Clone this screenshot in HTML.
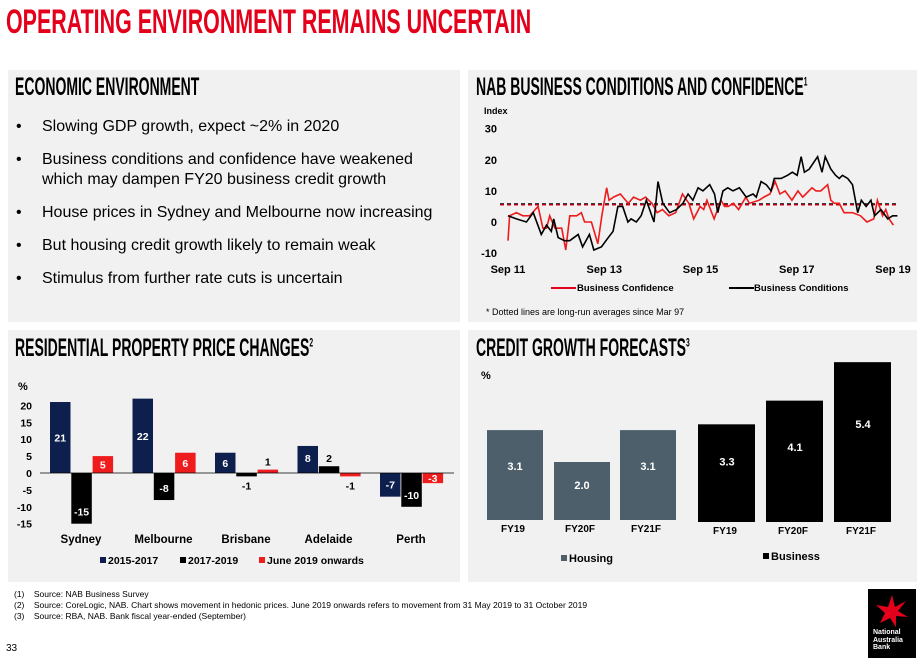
<!DOCTYPE html>
<html><head><meta charset="utf-8">
<style>
*{margin:0;padding:0;box-sizing:border-box}
body{width:924px;height:667px;background:#fff;position:relative;overflow:hidden;font-family:"Liberation Sans",Arial,sans-serif;color:#000}
.abs{position:absolute}
.panel{position:absolute;background:#f1f1f1}
.hd{position:absolute;font-family:"Liberation Sans Narrow","Liberation Sans",sans-serif;font-weight:bold;transform-origin:0 0;white-space:nowrap}
.bul{position:absolute;left:16px;font-size:16px;line-height:20px}
.bul span{position:absolute;left:26px;white-space:nowrap}
.foot{position:absolute;left:14px;font-size:8.5px;white-space:nowrap}
</style></head><body>
<div class="hd" style="left:6px;top:3px;font-size:34px;color:#e4001b;transform:scaleX(0.63)">OPERATING ENVIRONMENT REMAINS UNCERTAIN</div>

<div class="panel" style="left:8px;top:70px;width:452px;height:252px"></div>
<div class="panel" style="left:468px;top:70px;width:449px;height:252px"></div>
<div class="panel" style="left:8px;top:330px;width:452px;height:252px"></div>
<div class="panel" style="left:468px;top:330px;width:449px;height:252px"></div>

<div class="hd" style="left:15px;top:73px;font-size:25px;transform:scaleX(0.56)">ECONOMIC ENVIRONMENT</div>
<div>
<div class="bul" style="top:117px">•<span>Slowing GDP growth, expect ~2% in 2020</span></div>
<div class="bul" style="top:150px">•<span>Business conditions and confidence have weakened<br>which may dampen FY20 business credit growth</span></div>
<div class="bul" style="top:203px">•<span>House prices in Sydney and Melbourne now increasing</span></div>
<div class="bul" style="top:236px">•<span>But housing credit growth likely to remain weak</span></div>
<div class="bul" style="top:269px">•<span>Stimulus from further rate cuts is uncertain</span></div>
</div>

<div class="hd" style="left:476px;top:73px;font-size:25px;transform:scaleX(0.56)">NAB BUSINESS CONDITIONS AND CONFIDENCE<sup style="font-size:12px">1</sup></div>
<div class="hd" style="left:15px;top:334px;font-size:25px;transform:scaleX(0.56)">RESIDENTIAL PROPERTY PRICE CHANGES<sup style="font-size:12px">2</sup></div>
<div class="hd" style="left:476px;top:334px;font-size:25px;transform:scaleX(0.56)">CREDIT GROWTH FORECASTS<sup style="font-size:12px">3</sup></div>

<svg class="abs" style="left:0;top:0" width="924" height="667" id="svg"></svg>

<div>
<div class="foot" style="top:589px">(1)&nbsp;&nbsp;&nbsp; Source: NAB Business Survey</div>
<div class="foot" style="top:600px">(2)&nbsp;&nbsp;&nbsp; Source: CoreLogic, NAB. Chart shows movement in hedonic prices. June 2019 onwards refers to movement from 31 May 2019 to 31 October 2019</div>
<div class="foot" style="top:611px">(3)&nbsp;&nbsp;&nbsp; Source: RBA, NAB. Bank fiscal year-ended (September)</div>
</div>
<div class="abs" style="left:6px;top:643px;font-size:10px">33</div>
<div class="abs" style="left:868px;top:589px;width:48px;height:69px;background:#000">
<svg width="48" height="40" style="position:absolute;left:0;top:2px"><polygon points="24,4 27,16 38,10 30,20 40,26 28,25 28,36 22,27 12,32 17,22 8,14 20,16" fill="#e4001b"/></svg>
<div style="position:absolute;left:5px;top:40px;color:#fff;font-size:7px;font-weight:bold;line-height:7.5px">National<br>Australia<br>Bank</div>
</div>

<script>
// ===== NAB line chart data =====
const confMonths=[0,0.4,2.1,3.7,5.4,7.5,8.7,9.6,10.4,11.7,13.4,14.4,15.4,17.1,18.3,19.1,20.8,22.4,23.4,24.6,25.2,26.3,28,30,31.3,33,34.3,35.9,37.2,38.5,40.1,41.8,43.5,45.1,46.3,47.9,48.8,49.6,51.4,53.1,54,54.9,56.2,57.5,59.3,60.2,62.6,63.8,65.3,66.6,67.8,69.1,70.8,72.3,73.5,75.8,76.8,78,79.7,80.5,81.4,82.6,83.8,85.9,87.9,89.5,91.2,92.1,93.4,94.2,95,96.1,97.1];
const confVals=[-6,2,3,2,2,5,-2,-2,2,-2,-2,-9,2,2,3,0,0,-7,2,11,7,8,9,6,8,7,8,6,3,4,2,3,9,6,1,5,4,7,1,7,5,5,6,4,8,6,7,8,9,13,9,10,7,10,8,11,10,10,12,7,6,6,3,3,2,0,1,7,2,4,1,-1];
const condMonths=[0,2.1,4.6,6.3,8.3,9.6,10.8,11.4,12.5,14.1,15.4,17.5,18.6,20.3,21.4,23.3,25,26.2,27.4,28.6,29.9,30.7,32,33.2,34.5,36.4,37.4,38.6,40.3,42,43.6,44.9,46.1,47.4,48.6,50.3,51.5,52.3,53.6,54.8,56.1,57.7,59.4,61.1,61.9,63.1,64.4,65.6,66.4,68.1,69.7,70.9,72.1,73.1,73.9,75.1,77.2,78.3,79.1,80.5,81.7,82.6,83.4,84.7,85.9,87.2,88.1,89.3,90.5,91.4,93,94.7,95.9,97.1];
const condVals=[2,1,0,3,-4,-1,-3,1,-5,-6,-6,-4,-8,-4,-9,-8,-5,-3,5,5,0,1,0,2,7,0,13,6,3,4,6,9,7,11,10,12,9,3,10,11,10,11,8,9,8,13,12,10,14,14,15,16,15,21,16,17,21,16,21,17,15,14,15,14,12,3,7,5,7,2,4,1,2,2];
const avgConf=5.5, avgCond=5.8;
const nabYTicks=[30,20,10,0,-10];
const nabXTicks=["Sep 11","Sep 13","Sep 15","Sep 17","Sep 19"];
const nabXTickMonths=[0,24,48,72,96];

// ===== Property chart data =====
const cities=["Sydney","Melbourne","Brisbane","Adelaide","Perth"];
const p1517=[21,22,6,8,-7];
const p1719=[-15,-8,-1,2,-10];
const pJun19=[5,6,1,-1,-3];
const propYTicks=[20,15,10,5,0,-5,-10,-15];

// ===== Credit chart data =====
const creditCats=["FY19","FY20F","FY21F"];
const housing=[3.1,2.0,3.1];
const business=[3.3,4.1,5.4];

const NS="http://www.w3.org/2000/svg";
const svg=document.getElementById('svg');
function mk(tag,attrs,parent){const e=document.createElementNS(NS,tag);for(const k in attrs)e.setAttribute(k,attrs[k]);(parent||svg).appendChild(e);return e;}
function txt(x,y,s,attrs){const t=mk('text',Object.assign({x:x,y:y,'font-family':'Liberation Sans, Arial, sans-serif','font-size':11,'font-weight':'bold'},attrs||{}));t.textContent=s;return t;}

// ---- NAB line chart ----
const lx=m=>508+m*(385/96);
const ly=v=>222-v*3.11;
nabYTicks.forEach(v=>{const t=txt(497,ly(v)+4,String(v),{'text-anchor':'end','font-size':11});

});
nabXTicks.forEach((s,i)=>{const t=txt(lx(nabXTickMonths[i]),273,s,{'text-anchor':'middle','font-size':11});

});
const yl=txt(484,114,"Index",{'font-size':9});


const a1=mk('line',{x1:lx(0)-8,x2:lx(97),y1:ly(avgCond),y2:ly(avgCond),stroke:'#000','stroke-width':1.3,'stroke-dasharray':'4,3'});


const a2=mk('line',{x1:lx(0)-8,x2:lx(97),y1:ly(avgConf),y2:ly(avgConf),stroke:'#e4001b','stroke-width':1.3,'stroke-dasharray':'4,3'});


const pc=mk('polyline',{points:confMonths.map((m,i)=>lx(m)+','+ly(confVals[i])).join(' '),fill:'none',stroke:'#ee1c1c','stroke-width':1.6});


const pk=mk('polyline',{points:condMonths.map((m,i)=>lx(m)+','+ly(condVals[i])).join(' '),fill:'none',stroke:'#000','stroke-width':1.6});


const lg1=mk('line',{x1:551,x2:576,y1:288,y2:288,stroke:'#e4001b','stroke-width':2});


const lt1=txt(577,291,"Business Confidence",{'font-size':9.5});


const lg2=mk('line',{x1:729,x2:754,y1:288,y2:288,stroke:'#000','stroke-width':2});


const lt2=txt(754,291,"Business Conditions",{'font-size':9.5});


const nt=txt(486,315,"* Dotted lines are long-run  averages since Mar 97",{'font-size':9,'font-weight':'normal'});



// ---- Property chart ----
const py=v=>473-v*3.38;
const pAxisTitle=txt(18,390,"%",{'font-size':11});


propYTicks.forEach(v=>{const t=txt(32,py(v)+4,String(v),{'text-anchor':'end','font-size':10.5});

});
const series=[[p1517,'#0d1f4d','2015-2017'],[p1719,'#000','2017-2019'],[pJun19,'#ee1c1c','June 2019 onwards']];
cities.forEach((c,i)=>{
  const g0=50+i*82.5;
  series.forEach((s,j)=>{
    const v=s[0][i];const x=g0+j*21.3;const y0=py(Math.max(v,0)),h=Math.abs(v)*3.38;
    const r=mk('rect',{x:x,y:y0,width:20.5,height:h,fill:s[1]});
    
    
    let ty,col='#fff';
    if(Math.abs(v)>=3){
      if(v<0) ty=(h<15)?py(v)-1:py(v)-8;
      else ty=py(v)+(v>10?h/2+4:Math.min(16,h/2+4));
    }
    else {col='#000';ty=v>0?py(v)-4:py(v)+13;}
    const t=txt(x+10.25,ty,String(v),{'text-anchor':'middle','font-size':10.5,fill:col});
    
    
  });
  const ct=txt(g0+31,543,c,{'text-anchor':'middle','font-size':11.5});
  
  
});
const zl=mk('line',{x1:40,x2:454,y1:473,y2:473,stroke:'#000','stroke-width':0.8});


[[100,'#0d1f4d','2015-2017'],[180,'#000','2017-2019'],[259,'#ee1c1c','June 2019 onwards']].forEach(l=>{
  const r=mk('rect',{x:l[0],y:557,width:6,height:6,fill:l[1]});
  
  
  const t=txt(l[0]+8,564,l[2],{'font-size':10.5});
  
  
});

// ---- Credit chart ----
const ct0=txt(481,379,"%",{'font-size':11});


const hx=[487,554,620], bx=[698,766,834];
housing.forEach((v,i)=>{
  const h=v*29, y=520-h;
  const r=mk('rect',{x:hx[i],y:y,width:56,height:h,fill:'#4c5f6a'});
  
  
  const t=txt(hx[i]+28,y+0.4*h+4,v.toFixed(1),{'text-anchor':'middle','font-size':11,fill:'#fff'});
  
  
  const c=txt(hx[i]+26,532,creditCats[i],{'text-anchor':'middle','font-size':10});
  
  
});
business.forEach((v,i)=>{
  const h=v*29.6, y=522-h;
  const r=mk('rect',{x:bx[i],y:y,width:57,height:h,fill:'#000'});
  
  
  const t=txt(bx[i]+29,y+0.4*h+2,v.toFixed(1),{'text-anchor':'middle','font-size':11,fill:'#fff'});
  
  
  const c=txt(bx[i]+27,534,creditCats[i],{'text-anchor':'middle','font-size':10});
  
  
});
const hs=mk('rect',{x:561,y:555,width:6,height:6,fill:'#4c5f6a'});


const ht=txt(569,562,"Housing",{'font-size':11});


const bs=mk('rect',{x:763,y:553,width:6,height:6,fill:'#000'});


const bt=txt(771,560,"Business",{'font-size':11});


</script>
</body></html>
